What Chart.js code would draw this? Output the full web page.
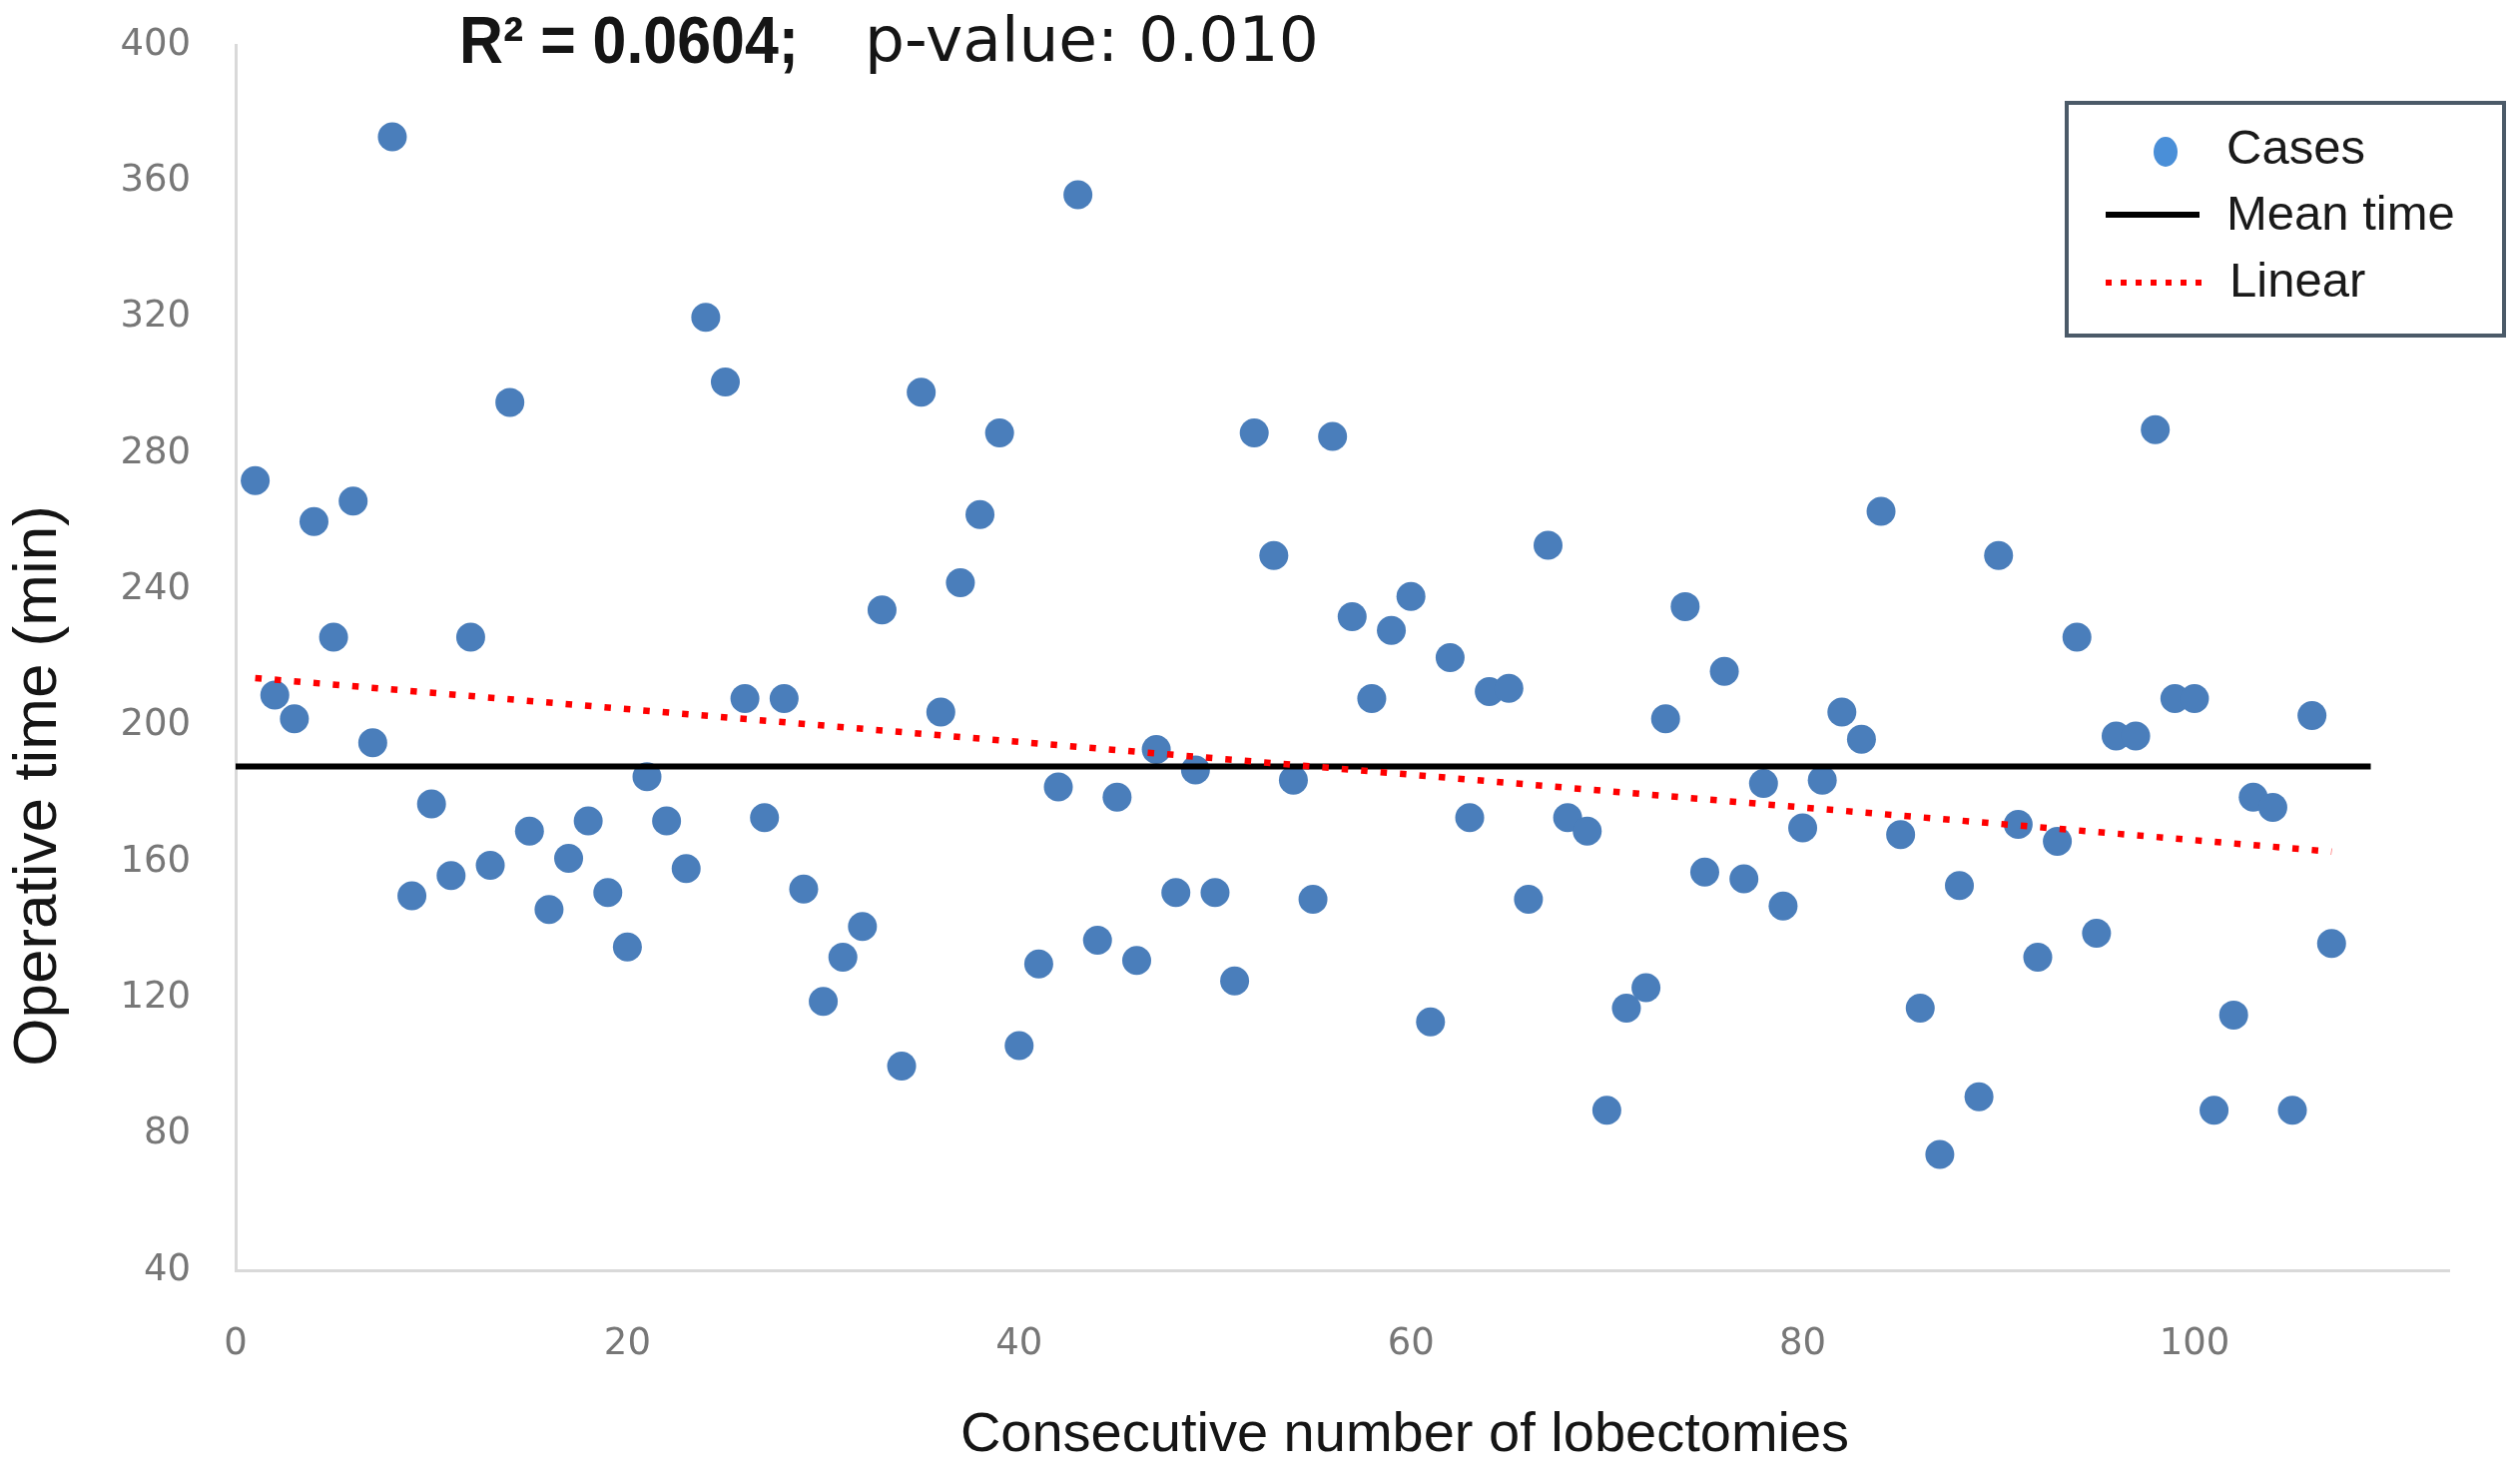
<!DOCTYPE html>
<html><head><meta charset="utf-8">
<script src="https://cdn.jsdelivr.net/npm/chart.js@4.4.1/dist/chart.umd.min.js"></script>
<style>html,body{margin:0;padding:0;background:#fff;} #wrap{width:2524px;height:1486px;position:relative;}</style>
</head><body><div id="wrap"><canvas id="c" width="2524" height="1486"></canvas></div>
<script>
// ---- data ----
const caseNumbers = [1,2,3,4,5,6,7,8,9,10,11,12,13,14,15,16,17,18,19,20,21,22,23,24,25,26,27,28,29,30,31,32,33,34,35,36,37,38,39,40,41,42,43,44,45,46,47,48,49,50,51,52,53,54,55,56,57,58,59,60,61,62,63,64,65,66,67,68,69,70,71,72,73,74,75,76,77,78,79,80,81,82,83,84,85,86,87,88,89,90,91,92,93,94,95,96,97,98,99,100,101,102,103,104,105,106,107];
const operativeTimes = [272,209,202,260,226,266,195,373,150,177,
  156,226,159,295,169,146,161,172,151,135,
  185,172,158,320,301,208,173,208,152,119,
  132,141,234,100,298,204,242,262,286,106,
  130,182,356,137,179,131,193,151,187,151,
  125,286,250,184,149,285,232,208,228,238,
  113,220,173,210,211,149,253,173,169,87,
  117,123,202,235,157,216,155,183,147,170,
  184,204,196,263,168,117,74,153,91,250,
  171,132,166,226,139,197,197,287,208,208,
  87,115,179,176,87,203,136];
const meanX = [0, 109];
const meanY = [188, 188];
const trendX = [1, 107];
const trendY = [214, 163];
const xTickValues = [0, 20, 40, 60, 80, 100];
const yTickValues = [40, 80, 120, 160, 200, 240, 280, 320, 360, 400];
const seriesNames = ['Cases', 'Mean time', 'Linear'];
const titleParts = ['R\u00B2 = 0.0604;', 'p-value: 0.010'];
const xTitle = 'Consecutive number of lobectomies';
const yTitle = 'Operative time (min)';

const pts = (xs, ys) => xs.map((x, i) => ({x: x, y: ys[i]}));

const overlay = {
  id: 'overlay',
  afterDraw(chart) {
    const ctx = chart.ctx;
    ctx.save();
    ctx.fillStyle = '#151515';
    ctx.textAlign = 'left';
    ctx.textBaseline = 'alphabetic';
    ctx.font = 'bold 66px "Liberation Sans", Arial, sans-serif';
    ctx.fillText(titleParts[0], 460, 63, 340);
    ctx.font = '63px "DejaVu Sans", sans-serif';
    ctx.fillText(titleParts[1], 866, 61);
    // y title
    ctx.save();
    ctx.translate(39, 787);
    ctx.rotate(-Math.PI / 2);
    ctx.textAlign = 'center';
    ctx.textBaseline = 'middle';
    ctx.font = '62px "Liberation Sans", Arial, sans-serif';
    ctx.fillText(yTitle, 0, 0);
    ctx.restore();
    // x title
    ctx.textAlign = 'center';
    ctx.textBaseline = 'middle';
    ctx.font = '56px "Liberation Sans", Arial, sans-serif';
    ctx.fillText(xTitle, 1407, 1438);
    // legend box
    ctx.fillStyle = '#ffffff';
    ctx.fillRect(2070, 103, 438, 233);
    ctx.strokeStyle = '#4b5a68';
    ctx.lineWidth = 4;
    ctx.strokeRect(2070, 103, 438, 233);
    const ds = chart.data.datasets;
    // Cases marker
    ctx.fillStyle = '#4a8fd8';
    ctx.beginPath();
    ctx.ellipse(2169, 152, 12, 15, 0, 0, Math.PI * 2);
    ctx.fill();
    // Mean line
    ctx.strokeStyle = ds[1].borderColor;
    ctx.lineWidth = 6;
    ctx.setLineDash([]);
    ctx.beginPath(); ctx.moveTo(2109, 215); ctx.lineTo(2203, 215); ctx.stroke();
    // Linear dotted
    ctx.strokeStyle = ds[2].borderColor;
    ctx.lineWidth = 6;
    ctx.setLineDash([6, 9]);
    ctx.beginPath(); ctx.moveTo(2109, 283); ctx.lineTo(2206, 283); ctx.stroke();
    ctx.setLineDash([]);
    ctx.fillStyle = '#1a1a1a';
    ctx.textAlign = 'left';
    ctx.textBaseline = 'middle';
    ctx.font = '49px "Liberation Sans", Arial, sans-serif';
    ctx.fillText(ds[0].label, 2230, 150);
    ctx.fillText(ds[1].label, 2230, 216);
    ctx.fillText(ds[2].label, 2233, 283);
    ctx.restore();
  }
};

new Chart(document.getElementById('c'), {
  type: 'scatter',
  data: {
    datasets: [
      { label: seriesNames[0], data: pts(caseNumbers, operativeTimes),
        backgroundColor: '#4a7ebb', borderWidth: 0, pointRadius: 14.5, pointHoverRadius: 14.5, order: 3 },
      { type: 'line', label: seriesNames[1], data: pts(meanX, meanY),
        borderColor: '#000000', borderWidth: 6, pointRadius: 0, fill: false, order: 2 },
      { type: 'line', label: seriesNames[2], data: pts(trendX, trendY),
        borderColor: '#ff0000', borderWidth: 6.5, borderDash: [6.5, 13], pointRadius: 0, fill: false, order: 1 }
    ]
  },
  options: {
    responsive: false,
    devicePixelRatio: 1,
    animation: false,
    layout: { padding: { top: 45, right: 71, left: 0, bottom: 0 } },
    plugins: { legend: { display: false }, tooltip: { enabled: false }, title: { display: false } },
    scales: {
      x: {
        type: 'linear', min: 0, max: 113,
        afterBuildTicks: s => { s.ticks = xTickValues.map(v => ({value: v})); },
        afterFit: s => { s.height = 214; s.paddingLeft = 0; s.paddingRight = 0; },
        grid: { display: false, drawTicks: false },
        border: { display: true, color: '#d9d9d9', width: 3 },
        ticks: { padding: 52, color: '#777777', font: { family: '"DejaVu Sans", sans-serif', size: 37 }, maxRotation: 0 }
      },
      y: {
        type: 'linear', min: 40, max: 400,
        afterBuildTicks: s => { s.ticks = yTickValues.map(v => ({value: v})); },
        afterFit: s => { s.width = 236; s.paddingTop = 0; s.paddingBottom = 0; },
        grid: { display: false, drawTicks: false },
        border: { display: true, color: '#d9d9d9', width: 3 },
        ticks: { padding: 45, color: '#777777', font: { family: '"DejaVu Sans", sans-serif', size: 37 } }
      }
    }
  },
  plugins: [overlay]
});
</script>
</body></html>
